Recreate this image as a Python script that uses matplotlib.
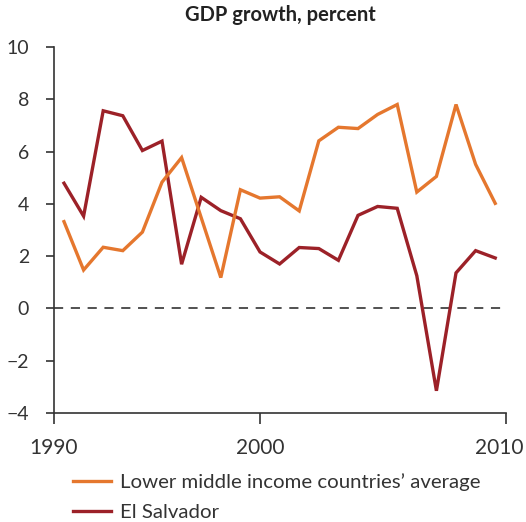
import numpy as np
import matplotlib
matplotlib.use("Agg")
import matplotlib.pyplot as plt
from matplotlib.transforms import ScaledTranslation

# data
years = np.arange(1990, 2013)
lmic_avg = [3.32, 1.47, 2.34, 2.21, 2.92, 4.83, 5.77, 3.47, 1.18, 4.54, 4.22, 4.27,
            3.73, 6.41, 6.93, 6.88, 7.42, 7.80, 4.45, 5.05, 7.80, 5.51, 4.02]
el_salvador = [4.79, 3.53, 7.56, 7.37, 6.04, 6.40, 1.69, 4.25, 3.74, 3.43, 2.16, 1.70,
               2.33, 2.29, 1.84, 3.56, 3.90, 3.83, 1.25, -3.15, 1.36, 2.21, 1.93]
x_tick_labels = ["1990", "2000", "2010"]
y_ticks = [-4, -2, 0, 2, 4, 6, 8, 10]

ORANGE = "#E5772E"
RED = "#9C2128"
AXIS = "#333333"

plt.rcParams["font.family"] = ["Lato", "DejaVu Sans"]

fig = plt.figure(figsize=(5.26, 5.22), dpi=100)
ax = fig.add_axes([54 / 526, 1 - 413 / 522, 452 / 526, 366 / 522])

ax.axhline(0, color="#222222", lw=1.1, ls=(0, (6, 5)), zorder=1)
l1, = ax.plot(years, lmic_avg, color=ORANGE, lw=2.4, solid_joinstyle="miter", zorder=3)
l2, = ax.plot(years, el_salvador, color=RED, lw=2.4, solid_joinstyle="miter", zorder=2)

xmin, xmax = 1989.49, 2012.55
ax.set_xlim(xmin, xmax)
ax.set_ylim(-4, 10)
ax.set_xticks([xmin, 2000, xmax])
ax.set_xticklabels(x_tick_labels)
ax.set_yticks(y_ticks)
ax.set_yticklabels([str(v).replace("-", "\u2212") for v in y_ticks])

for s in ["top", "right"]:
    ax.spines[s].set_visible(False)
for s in ["left", "bottom"]:
    ax.spines[s].set_color(AXIS)
    ax.spines[s].set_linewidth(1.2)
ax.tick_params(axis="y", direction="out", length=6, width=1.2, color=AXIS,
               pad=12, labelsize=14, labelcolor="#333333")
ax.tick_params(axis="x", direction="out", length=8, width=1.2, color=AXIS,
               pad=10, labelsize=15, labelcolor="#333333")

# last label sits a little left of its tick, just inside the image
last = ax.get_xticklabels()[-1]
last.set_transform(last.get_transform() + ScaledTranslation(-7 / 100, 0, fig.dpi_scale_trans))

ax.set_title("GDP growth, percent", fontsize=14.5, fontweight="bold",
             color="#222222", pad=19)

fig.legend([l1, l2], ["Lower middle income countries\u2019 average", "El Salvador"],
           loc="upper left", bbox_to_anchor=(55 / 526, 1 - 455 / 522),
           frameon=False, fontsize=14.7, handlelength=1.85, handletextpad=0.45,
           labelspacing=0.62, labelcolor="#333333")

fig.savefig("out.png", dpi=100)
